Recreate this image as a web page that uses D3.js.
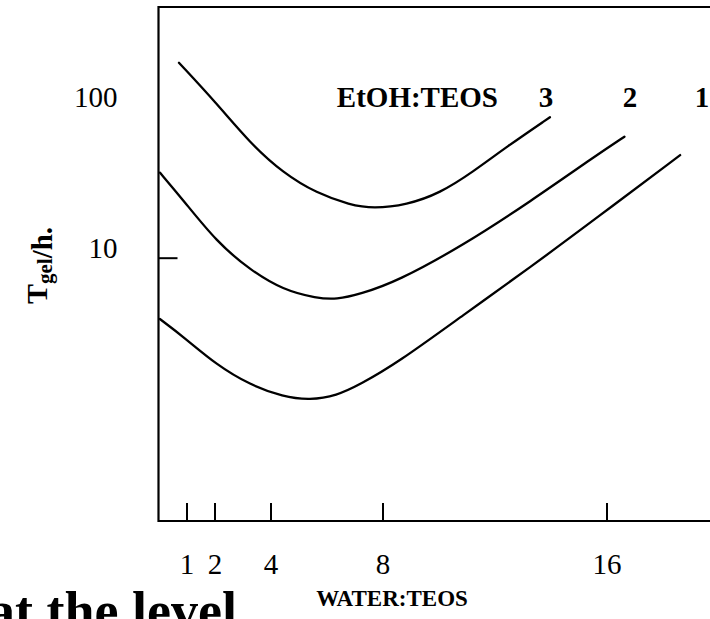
<!DOCTYPE html>
<html>
<head>
<meta charset="utf-8">
<script src="https://cdn.jsdelivr.net/npm/d3@7"></script>
<style>
  html, body { margin: 0; padding: 0; background: #fff; }
  svg { display: block; font-family: "Liberation Serif", "Times New Roman", serif; }
</style>
</head>
<body>
<svg id="chart" width="710" height="619"></svg>
<script>
// Gelation time (h) against the water:TEOS molar ratio, one curve per EtOH:TEOS ratio.
const ratioNames = ["1", "2", "3"];

const water1 = [0.05, 0.89, 2.08, 3.27, 4.45, 5.41, 6.36, 7.2, 8.51, 10.89, 13.27, 15.65, 18.63];
const tgel1  = [3.94, 3.01, 1.96, 1.45, 1.21, 1.15, 1.23, 1.46, 2.01, 4.19, 8.62, 18.3, 47.5];

const water2 = [0.05, 0.88, 2.08, 3.27, 4.45, 5.65, 6.36, 7.2, 8.51, 10.89, 13.27, 15.65, 16.64];
const tgel2  = [36.4, 24.0, 12.7, 8.3, 6.12, 5.40, 5.30, 5.75, 6.95, 12.1, 23.4, 47.5, 62.8];

const water3 = [0.73, 2.08, 3.27, 4.45, 5.65, 6.84, 7.67, 8.86, 10.05, 11.24, 12.44, 13.98];
const tgel3  = [193, 104, 57, 36.2, 26.6, 22.3, 21.1, 22.3, 26.6, 36.9, 54, 84.4];

const xTickValues = [1, 2, 4, 8, 16];
const yLabelValues = [10, 100];
const yTickMarks = [10];

const svg = d3.select("#chart");

// Scales: linear water ratio, logarithmic gel time.
const x = d3.scaleLinear().domain([0, 20]).range([158.5, 718.5]);
const y = d3.scaleLog().domain([0.1835, 450]).range([521, 7]);

// Frame (runs past the right edge of the page).
svg.append("path")
  .attr("d", `M${x.range()[1]},${y.range()[1]}H${x(0)}V${y.range()[0]}H${x.range()[1]}`)
  .attr("fill", "none")
  .attr("stroke", "#000")
  .attr("stroke-width", 2.2);

// Bottom axis: short upward ticks, numbers below.
const xAxis = svg.append("g")
  .attr("transform", `translate(0,${y.range()[0]})`)
  .call(d3.axisBottom(x).tickValues(xTickValues).tickSizeInner(-18).tickSizeOuter(0).tickFormat(d3.format("d")));
xAxis.select(".domain").remove();
xAxis.selectAll(".tick line").attr("stroke", "#000").attr("stroke-width", 2);
xAxis.selectAll(".tick text")
  .attr("y", 53).attr("dy", 0)
  .attr("fill", "#000")
  .style("font-family", "Liberation Serif")
  .style("font-size", "29px");

// Left axis: labels outside, a single inward tick at 10.
const yAxis = svg.append("g")
  .attr("transform", `translate(${x(0)},0)`)
  .call(d3.axisLeft(y).tickValues(yLabelValues).tickSize(0).tickPadding(41).tickFormat(d3.format("d")));
yAxis.select(".domain").remove();
yAxis.selectAll(".tick text")
  .attr("dy", 0)
  .attr("fill", "#000")
  .style("font-family", "Liberation Serif")
  .style("font-size", "29px");

const yMarks = svg.append("g")
  .attr("transform", `translate(${x(0)},0)`)
  .call(d3.axisRight(y).tickValues(yTickMarks).tickSize(19).tickFormat(""));
yMarks.select(".domain").remove();
yMarks.selectAll(".tick line").attr("stroke", "#000").attr("stroke-width", 2);

// Curves
const series = [
  { name: ratioNames[0], xs: water1, ys: tgel1 },
  { name: ratioNames[1], xs: water2, ys: tgel2 },
  { name: ratioNames[2], xs: water3, ys: tgel3 }
];
const line = d3.line()
  .x(d => x(d[0]))
  .y(d => y(d[1]))
  .curve(d3.curveBasis);

svg.append("g").selectAll("path")
  .data(series)
  .join("path")
  .attr("d", s => line(d3.zip(s.xs, s.ys)))
  .attr("fill", "none")
  .attr("stroke", "#000")
  .attr("stroke-width", 2.3)
  .attr("stroke-linejoin", "round")
  .attr("stroke-linecap", "round");

// Curve key along the top
const keyBaseline = 107;
svg.append("text")
  .attr("x", 498).attr("y", keyBaseline)
  .attr("text-anchor", "end")
  .style("font-weight", "bold")
  .style("font-size", "29px")
  .text("EtOH:TEOS");

const keyX = { "3": 546, "2": 630, "1": 702 };
svg.append("g").selectAll("text")
  .data(series)
  .join("text")
  .attr("x", s => keyX[s.name])
  .attr("y", keyBaseline)
  .attr("text-anchor", "middle")
  .style("font-weight", "bold")
  .style("font-size", "29px")
  .text(s => s.name);

// Axis titles
svg.append("text")
  .attr("x", 392).attr("y", 606)
  .attr("text-anchor", "middle")
  .style("font-weight", "bold")
  .style("font-size", "23px")
  .text("WATER:TEOS");

const yTitle = svg.append("text")
  .attr("transform", "translate(47,304) rotate(-90)")
  .attr("text-anchor", "start")
  .style("font-weight", "bold")
  .style("font-size", "30px");
yTitle.append("tspan").text("T");
yTitle.append("tspan").attr("dy", 5).style("font-size", "21px").text("gel");
yTitle.append("tspan").style("font-size", "29px").text("/h.");

// Start of the following line of text on the page
svg.append("text")
  .attr("x", -12).attr("y", 629)
  .style("font-weight", "bold")
  .style("font-size", "54px")
  .text("at the level");
</script>
</body>
</html>
